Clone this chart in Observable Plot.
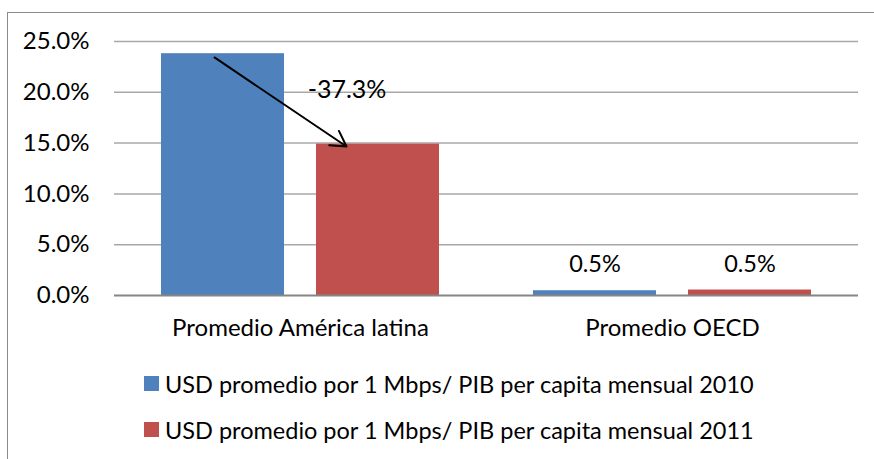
<!DOCTYPE html>
<html>
<head>
<meta charset="utf-8">
<script src="https://cdn.jsdelivr.net/npm/d3@7"></script>
<script src="https://cdn.jsdelivr.net/npm/@observablehq/plot@0.6"></script>
<style>
  html, body { margin: 0; padding: 0; background: #fff; }
  #wrap { position: relative; width: 874px; height: 459px; overflow: hidden; background: #fff; font-family: Lato, sans-serif; }
  #chart { position: absolute; left: 0; top: 0; }
  #frame { position: absolute; left: 7px; top: 12px; width: 920px; height: 520px; border: 1.5px solid #8a8a8a; pointer-events: none; }
  #legend { position: absolute; left: 144px; top: 0; font-size: 23.5px; color: #000; }
  .item { position: absolute; left: 0; display: flex; align-items: center; white-space: nowrap; }
  .sw { width: 15px; height: 15px; margin-right: 6px; flex: none; }
</style>
</head>
<body>
<div id="wrap">
  <div id="chart"></div>
  <div id="legend"></div>
  <div id="frame"></div>
</div>
<script>
const groups = ["Promedio América latina", "Promedio OECD"];
const series = [
  "USD promedio por 1 Mbps/ PIB per capita mensual 2010",
  "USD promedio por 1 Mbps/ PIB per capita mensual 2011"
];
const values2010 = [23.8, 0.47];
const values2011 = [14.9, 0.54];
const colors = ["#4F81BD", "#C0504D"];
const yTicks = [0, 5, 10, 15, 20, 25];
const labelledGroups = ["Promedio OECD"];
const changeLabel = "-37.3%";
const arrowFrom = 23.43;
const arrowTo = 13.14;
const changeLabelY = 20.2;

const data = groups.flatMap((g, i) => [
  {group: g, series: series[0], value: values2010[i]},
  {group: g, series: series[1], value: values2011[i]}
]);
const arrowData = [{group: groups[0], from: series[0], to: series[1], y1: arrowFrom, y2: arrowTo}];
const fmt = d => d.toFixed(1) + "%";

const plot = Plot.plot({
  width: 874,
  height: 350,
  marginLeft: 113,
  marginRight: 16,
  marginTop: 41,
  marginBottom: 55,
  style: {fontFamily: "Lato, sans-serif", fontSize: "24px", color: "#000", background: "transparent"},
  fx: {domain: groups, padding: 0, axis: "bottom", label: null, tickSize: 0, tickPadding: 23},
  x: {domain: series, paddingInner: 0.2065, paddingOuter: 0.303, axis: null},
  y: {domain: [0, 25], ticks: yTicks, tickFormat: fmt, tickSize: 0, tickPadding: 25, label: null},
  color: {domain: series, range: colors},
  marks: [
    Plot.ruleY(yTicks.filter(d => d > 0), {stroke: "#a8a8a8", strokeWidth: 1.5}),
    Plot.barY(data, {fx: "group", x: "series", y: "value", fill: "series"}),
    Plot.ruleY([0], {stroke: "#868686", strokeWidth: 2}),
    Plot.text(data.filter(d => labelledGroups.includes(d.group)), {
      fx: "group", x: "series", y: "value", text: d => fmt(d.value), dy: -26, fill: "#000", fontSize: 23.5
    }),
    Plot.arrow(arrowData, {
      fx: "group", x1: "from", x2: "to", y1: "y1", y2: "y2",
      dx: -8.5, insetEnd: 27.7, stroke: "#000", strokeWidth: 2, headLength: 13, bend: false
    }),
    Plot.text(arrowData, {fx: "group", x: "to", y: () => changeLabelY, text: () => changeLabel, dx: -31, fill: "#000", fontSize: 25})
  ]
});
document.getElementById("chart").appendChild(plot);

const legend = document.getElementById("legend");
const rowTops = [383.5, 429.5];
series.forEach((s, i) => {
  const item = document.createElement("div");
  item.className = "item";
  item.style.top = (rowTops[i] - 15) + "px";
  item.style.height = "30px";
  const sw = document.createElement("span");
  sw.className = "sw";
  sw.style.background = colors[i];
  const t = document.createElement("span");
  t.textContent = s;
  item.appendChild(sw);
  item.appendChild(t);
  legend.appendChild(item);
});
</script>
</body>
</html>
